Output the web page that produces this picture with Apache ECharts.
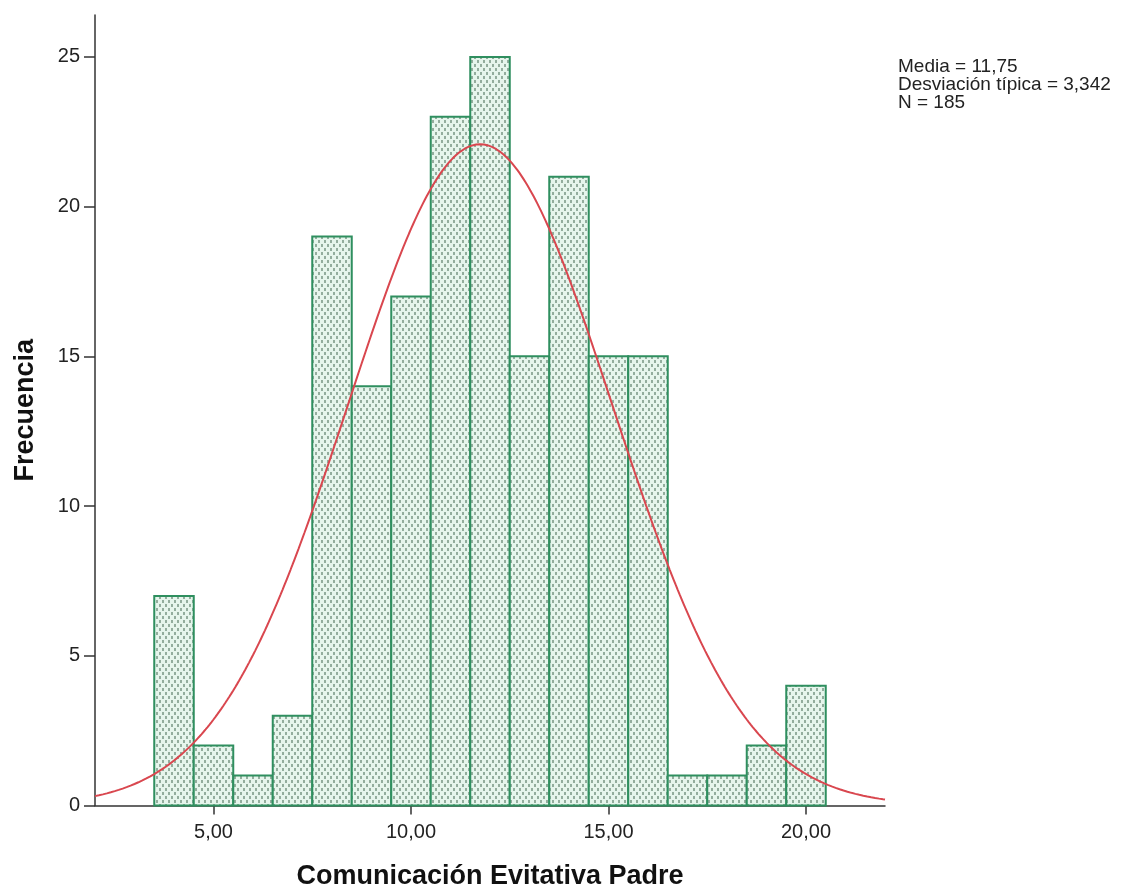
<!DOCTYPE html>
<html>
<head>
<meta charset="utf-8">
<script src="https://cdn.jsdelivr.net/npm/echarts@6/dist/echarts.min.js"></script>
<style>
  html, body { margin: 0; padding: 0; background: #ffffff; }
  #chart { width: 1142px; height: 894px; }
</style>
</head>
<body>
<div id="chart"></div>
<script>
// Histogram bins (centre of each unit-wide bin) and their counts
const binCenters  = [4, 5, 6, 7, 8, 9, 10, 11, 12, 13, 14, 15, 16, 17, 18, 19, 20];
const frequencies = [7, 2, 1, 3, 19, 14, 17, 23, 25, 15, 21, 15, 15, 1, 1, 2, 4];

// Axis ticks
const xTicks = [5, 10, 15, 20];
const yTicks = [0, 5, 10, 15, 20, 25];

// Summary statistics shown in the corner; the normal curve is drawn from them
const statMean = 11.75;
const statSd = 3.342;
const statN = 185;
const binWidth = 1;

const fmtComma = (v, d) => v.toFixed(d).replace('.', ',');

// Normal density scaled to counts over the x range of the axis
const curve = [];
for (let i = 0; i <= 400; i++) {
  const x = 2 + i * 0.05;
  const z = (x - statMean) / statSd;
  const y = statN * binWidth * Math.exp(-0.5 * z * z) / (statSd * Math.sqrt(2 * Math.PI));
  curve.push([x, y]);
}

// Dotted fill used inside the bars
function dotPattern() {
  const c = document.createElement('canvas');
  c.width = 6; c.height = 8;
  const g = c.getContext('2d');
  g.fillStyle = '#e6f5ec';
  g.fillRect(0, 0, 6, 8);
  g.fillStyle = '#93ad9d';
  g.fillRect(0, 0, 2, 3);
  g.fillRect(3, 4, 2, 3);
  return c;
}
const barFill = { image: dotPattern(), repeat: 'repeat' };

const FONT = '"Liberation Sans", Arial, sans-serif';

const chart = echarts.init(document.getElementById('chart'), null, { renderer: 'canvas' });
chart.setOption({
  animation: false,
  backgroundColor: '#ffffff',
  grid: { left: 95, right: 257, top: 15, bottom: 88.5, outerBoundsMode: 'none', containLabel: false },
  xAxis: {
    type: 'value',
    min: 2, max: 22,
    name: 'Comunicación Evitativa Padre',
    nameLocation: 'middle',
    nameGap: 58,
    nameTextStyle: { fontFamily: FONT, fontWeight: 'bold', fontSize: 27, color: '#111' },
    axisLine: { show: true, onZero: false, lineStyle: { color: '#333', width: 1.5 } },
    axisTick: { show: true, length: 9, customValues: xTicks, lineStyle: { color: '#333', width: 1.5 } },
    axisLabel: {
      customValues: xTicks, margin: 17,
      fontFamily: FONT, fontSize: 20, color: '#222',
      formatter: v => fmtComma(v, 2)
    },
    splitLine: { show: false }
  },
  yAxis: {
    type: 'value',
    min: 0, max: 26.4,
    name: 'Frecuencia',
    nameLocation: 'middle',
    nameGap: 56,
    nameTextStyle: { fontFamily: FONT, fontWeight: 'bold', fontSize: 27, color: '#111' },
    axisLine: { show: true, lineStyle: { color: '#333', width: 1.5 } },
    axisTick: { show: true, length: 11, customValues: yTicks, lineStyle: { color: '#333', width: 1.5 } },
    axisLabel: {
      customValues: yTicks, margin: 15,
      fontFamily: FONT, fontSize: 20, color: '#222',
      formatter: v => String(v)
    },
    splitLine: { show: false }
  },
  series: [
    {
      type: 'custom',
      name: 'Frecuencia',
      data: binCenters.map((c, i) => [c, frequencies[i]]),
      encode: { x: 0, y: 1 },
      renderItem: function (params, api) {
        const x = api.value(0), y = api.value(1);
        const p0 = api.coord([x - binWidth / 2, y]);
        const p1 = api.coord([x + binWidth / 2, 0]);
        return {
          type: 'rect',
          shape: { x: p0[0], y: p0[1], width: p1[0] - p0[0], height: p1[1] - p0[1] },
          style: { fill: barFill, stroke: '#2f8f5f', lineWidth: 2 }
        };
      },
      z: 2
    },
    {
      type: 'line',
      name: 'Normal',
      data: curve,
      showSymbol: false,
      smooth: false,
      lineStyle: { color: '#d9474f', width: 2 },
      z: 3
    }
  ],
  graphic: [
    {
      type: 'text',
      left: 898, top: 57,
      style: {
        text: 'Media = ' + fmtComma(statMean, 2) + '\nDesviación típica = ' + fmtComma(statSd, 3) + '\nN = ' + statN,
        font: '19px ' + FONT,
        fill: '#222',
        lineHeight: 18
      }
    }
  ]
});
</script>
</body>
</html>
